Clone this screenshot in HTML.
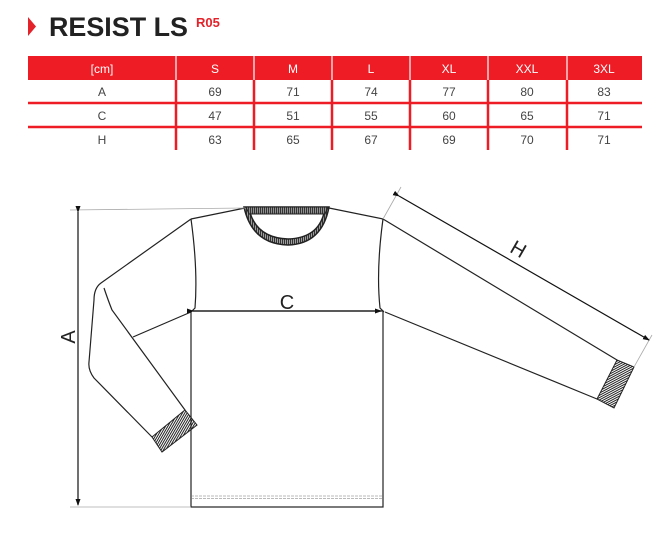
<!DOCTYPE html>
<html><head><meta charset="utf-8"><style>
body{margin:0;width:672px;height:546px;background:#fff;overflow:hidden;font-family:"Liberation Sans",sans-serif}
</style></head><body>
<svg width="672" height="546" viewBox="0 0 672 546" xmlns="http://www.w3.org/2000/svg">
<defs>
<pattern id="hh" width="2" height="2" patternUnits="userSpaceOnUse" patternTransform="rotate(-28)"><rect width="2" height="1" fill="#222"/></pattern>
<pattern id="hv" width="2" height="2" patternUnits="userSpaceOnUse" patternTransform="rotate(30)"><rect width="1" height="2" fill="#222"/></pattern>
<pattern id="hc" width="2" height="2" patternUnits="userSpaceOnUse"><rect width="1.2" height="2" fill="#333"/><rect x="1.2" width="0.8" height="2" fill="#999"/></pattern>
<marker id="ar" markerWidth="7" markerHeight="7" refX="6" refY="3.5" orient="auto" markerUnits="userSpaceOnUse"><path d="M0,1 L7,3.5 L0,6 z" fill="#111"/></marker>
</defs>
<!-- title -->
<polygon points="28,17 36,26.5 28,36" fill="#e3222a"/>
<text x="49" y="36" font-size="27" font-weight="bold" fill="#222" textLength="139" lengthAdjust="spacingAndGlyphs">RESIST LS</text>
<text x="196" y="27" font-size="13" font-weight="bold" fill="#e3222a">R05</text>
<!-- table -->
<rect x="28" y="56" width="614" height="24" fill="#ee1c25"/>
<g stroke="#ee1c25" stroke-width="2.5">
<line x1="28" y1="103" x2="642" y2="103"/><line x1="28" y1="127" x2="642" y2="127"/>
<line x1="176" y1="56" x2="176" y2="150"/><line x1="254" y1="56" x2="254" y2="150"/><line x1="332" y1="56" x2="332" y2="150"/><line x1="410" y1="56" x2="410" y2="150"/><line x1="488" y1="56" x2="488" y2="150"/><line x1="567" y1="56" x2="567" y2="150"/>
</g>
<g stroke="#fff" stroke-width="1.2"><line x1="176" y1="56" x2="176" y2="80"/><line x1="254" y1="56" x2="254" y2="80"/><line x1="332" y1="56" x2="332" y2="80"/><line x1="410" y1="56" x2="410" y2="80"/><line x1="488" y1="56" x2="488" y2="80"/><line x1="567" y1="56" x2="567" y2="80"/></g>
<g font-size="12" text-anchor="middle" fill="#fff">
<text x="102" y="73">[cm]</text><text x="215" y="73">S</text><text x="293" y="73">M</text><text x="371" y="73">L</text><text x="449" y="73">XL</text><text x="527" y="73">XXL</text><text x="604" y="73">3XL</text></g>
<g font-size="12" text-anchor="middle" fill="#444">
<text x="102" y="96">A</text><text x="215" y="96">69</text><text x="293" y="96">71</text><text x="371" y="96">74</text><text x="449" y="96">77</text><text x="527" y="96">80</text><text x="604" y="96">83</text>
<text x="102" y="120">C</text><text x="215" y="120">47</text><text x="293" y="120">51</text><text x="371" y="120">55</text><text x="449" y="120">60</text><text x="527" y="120">65</text><text x="604" y="120">71</text>
<text x="102" y="144">H</text><text x="215" y="144">63</text><text x="293" y="144">65</text><text x="371" y="144">67</text><text x="449" y="144">69</text><text x="527" y="144">70</text><text x="604" y="144">71</text></g>
<!-- garment -->
<g fill="none" stroke="#222" stroke-width="1.2">
<path d="M191,219 L245,208"/><path d="M329,208 L383,219"/>
<path d="M191,219 Q198,270 195,308 L191,312"/>
<path d="M383,219 Q376,270 380,308 L384,312"/>
<rect x="191" y="311" width="192" height="196"/>
<path d="M191,219 L101,283 Q94,288 94,300 L89,362 Q88,370 94,378 L152,437"/>
<path d="M104,288 Q108,300 112,310 L185,410"/>
<path d="M191,312 L133,337"/>
<path d="M383,219 L617,360"/>
<path d="M385,312 L597,399"/>
</g>
<polygon points="152,437 185,410 197,425 162,452" fill="url(#hv)" stroke="#222" stroke-width="1"/>
<polygon points="617,360 634,367 614,408 597,399" fill="url(#hh)" stroke="#222" stroke-width="1"/>
<!-- collar -->
<path d="M244,207 L329,207 Q322,244 288,245 Q252,244 244,207 Z M250,213 Q258,238 288,239 Q318,238 324,213 Z" fill="url(#hc)" fill-rule="evenodd" stroke="#222" stroke-width="1.5"/>
<path d="M246,207 L328,207 L325,214 L249,214 Z" fill="url(#hc)" stroke="#222" stroke-width="1"/>
<!-- hem -->
<line x1="191" y1="496" x2="383" y2="496" stroke="#777" stroke-width="0.6" stroke-dasharray="3,1"/>
<line x1="191" y1="498.5" x2="383" y2="498.5" stroke="#777" stroke-width="0.6" stroke-dasharray="3,1"/>
<!-- dimension guides -->
<g stroke="#aaa" stroke-width="0.8"><line x1="70" y1="210" x2="245" y2="208"/><line x1="70" y1="507" x2="191" y2="507"/><line x1="383" y1="219" x2="401" y2="187"/><line x1="634" y1="367" x2="652" y2="335"/></g>
<g stroke="#111" stroke-width="1.2">
<line x1="78" y1="212" x2="78" y2="505" marker-start="url(#ar)" marker-end="url(#ar)"/>
<line x1="193" y1="311" x2="381" y2="311" marker-start="url(#ar)" marker-end="url(#ar)"/>
<line x1="399" y1="196" x2="649" y2="340" marker-start="url(#ar)" marker-end="url(#ar)"/>
</g>
<text x="287" y="309" font-size="20" text-anchor="middle" fill="#222">C</text>
<text transform="translate(75,337) rotate(-90)" font-size="20" text-anchor="middle" fill="#222">A</text>
<text transform="translate(515,255) rotate(30)" font-size="20" text-anchor="middle" fill="#222">H</text>
</svg>
</body></html>
